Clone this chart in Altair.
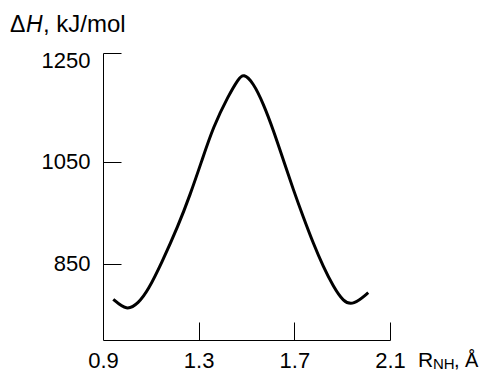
import altair as alt
import pandas as pd

# Data
r_nh = [0.943, 0.999, 1.048, 1.089, 1.145, 1.215, 1.264, 1.313, 1.361, 1.424,
        1.466, 1.487, 1.528, 1.570, 1.612, 1.654, 1.696, 1.737, 1.779, 1.821,
        1.863, 1.905, 1.946, 2.009]
dH = [780, 757, 772, 798, 851, 925, 985, 1052, 1119, 1180,
      1213, 1224, 1206, 1165, 1113, 1054, 995, 942, 890, 844,
      805, 775, 768, 793]

x_ticks = [0.9, 1.3, 1.7, 2.1]
y_ticks = [850, 1050, 1250]
X_DOMAIN = [0.9, 2.1]
Y_DOMAIN = [700, 1264]

W, H = 287, 287
FONT = "Liberation Sans"

df = pd.DataFrame({"r": r_nh, "dH": dH})

base = alt.Chart(df)

curve = base.mark_line(color="black", strokeWidth=3, interpolate="basis").encode(
    x=alt.X("r:Q", scale=alt.Scale(domain=X_DOMAIN, nice=False, zero=False),
            axis=alt.Axis(values=x_ticks, format=".1f", ticks=False, grid=False,
                          domainColor="black", domainWidth=1,
                          labelBaseline="alphabetic", labelPadding=27,
                          labelFontSize=22, labelFont=FONT, labelColor="black",
                          labelFlush=False, title=None)),
    y=alt.Y("dH:Q", scale=alt.Scale(domain=Y_DOMAIN, nice=False, zero=False),
            axis=alt.Axis(values=y_ticks, format="d", ticks=False, grid=False,
                          domainColor="black", domainWidth=1, labelPadding=13,
                          labelFontSize=22, labelFont=FONT, labelColor="black",
                          labelFlush=False, title=None)),
)

# inward ticks drawn by a second pair of axes placed over the first ones
tick_layer = base.mark_line(opacity=0).encode(
    x=alt.X("r:Q", scale=alt.Scale(domain=X_DOMAIN, nice=False, zero=False),
            axis=alt.Axis(orient="top", offset=-H, values=[1.3, 1.7, 2.1],
                          domain=False, labels=False, ticks=True, tickSize=18,
                          tickColor="black", tickWidth=1, grid=False, title=None)),
    y=alt.Y("dH:Q", scale=alt.Scale(domain=Y_DOMAIN, nice=False, zero=False),
            axis=alt.Axis(orient="right", offset=-W, values=[850, 1050, Y_DOMAIN[1]],
                          domain=False, labels=False, ticks=True, tickSize=18,
                          tickColor="black", tickWidth=1, grid=False, title=None)),
)


def label(text, x, y, size, style="normal"):
    return alt.Chart(pd.DataFrame({"t": [text]})).mark_text(
        align="left", baseline="alphabetic", fontSize=size, font=FONT,
        fontStyle=style, color="black"
    ).encode(text="t:N", x=alt.value(x), y=alt.value(y))


labels = [
    label("Δ", -93, -21, 23),
    label("H", -77, -21, 23, "italic"),
    label(", kJ/mol", -60, -21, 24),
    label("R", 315, 314, 21),
    label("NH", 330, 316, 15),
    label(", Å", 351, 314, 20),
]

chart = alt.layer(curve, tick_layer, *labels).resolve_axis(
    x="independent", y="independent"
).properties(
    width=W, height=H,
    autosize=alt.AutoSizeParams(type="none"),
    padding={"left": 95, "top": 45, "right": 90, "bottom": 31},
).configure_view(stroke=None)

chart.save("out.html", embed_options={"renderer": "svg", "actions": False})
